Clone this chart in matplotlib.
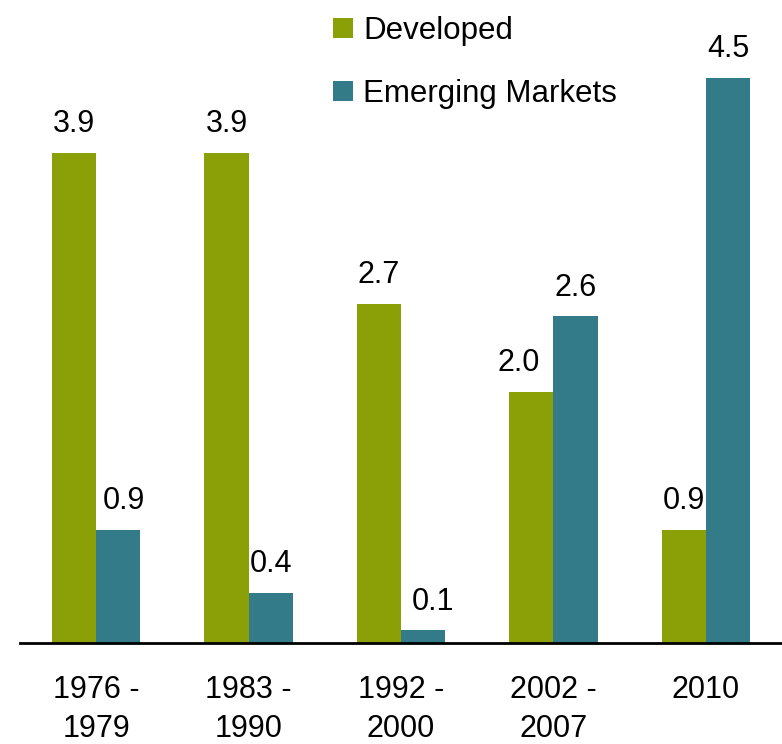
import numpy as np
import matplotlib
matplotlib.use("Agg")
import matplotlib.pyplot as plt

plt.rcParams['font.family'] = ['Liberation Sans', 'DejaVu Sans']

periods = ["1976 -\n1979", "1983 -\n1990", "1992 -\n2000", "2002 -\n2007", "2010"]
developed = [3.9, 3.9, 2.7, 2.0, 0.9]
emerging = [0.9, 0.4, 0.1, 2.6, 4.5]

# small horizontal nudges of value labels (points), as in the original
nudge_dev = [0, 0, 0, -9, 0]
nudge_em = [4, 0, 7, 0, 0]

c_dev = "#8B9F06"
c_em = "#347B8A"

fig = plt.figure(figsize=(7.82, 7.44), dpi=100)
ax = fig.add_axes([20 / 782, 101 / 744, 762 / 782, 643 / 744])

x = np.arange(len(periods))
w = 0.29
b1 = ax.bar(x - w / 2, developed, w, color=c_dev, label="Developed")
b2 = ax.bar(x + w / 2, emerging, w, color=c_em, label="Emerging Markets")

for bars, vals, nud in ((b1, developed, nudge_dev), (b2, emerging, nudge_em)):
    for r, v, n in zip(bars, vals, nud):
        ax.annotate(f"{v:.1f}", (r.get_x() + r.get_width() / 2, v),
                    xytext=(n, 15), textcoords="offset points",
                    ha="center", va="baseline", fontsize=22)

ax.set_xlim(-0.5, 4.5)
ax.set_ylim(0, 643 / 125.6)
ax.set_xticks(x)
ax.set_xticklabels(periods, fontsize=22, linespacing=1.38)
ax.tick_params(axis="x", length=0, pad=23)
ax.set_yticks([])
for s in ("top", "right", "left"):
    ax.spines[s].set_visible(False)
ax.spines["bottom"].set_linewidth(2)

ax.legend(loc="upper left", bbox_to_anchor=(333 / 782, 1 - 16 / 744), bbox_transform=fig.transFigure,
          frameon=False, fontsize=22.5, handlelength=0.63, handleheight=0.63,
          handletextpad=0.33, labelspacing=1.05, borderpad=0, borderaxespad=0)

fig.savefig("out.png", dpi=100)
